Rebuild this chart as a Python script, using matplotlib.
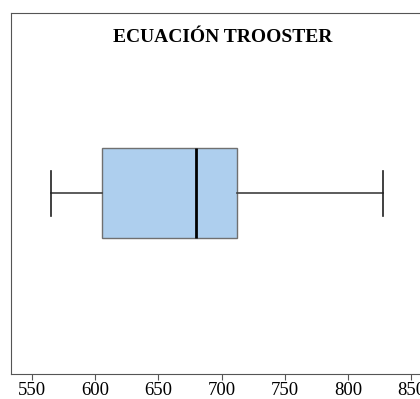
import matplotlib.pyplot as plt

# Box plot summary
title = 'ECUACIÓN TROOSTER'
whisker_low = 565
q1 = 605
median = 680
q3 = 712
whisker_high = 828
xticks = [550, 600, 650, 700, 750, 800, 850]

plt.rcParams['font.family'] = ['Liberation Serif', 'DejaVu Serif']

fig = plt.figure(figsize=(4.2, 3.99), dpi=100)
ax = fig.add_axes([11 / 420, 1 - 373.7 / 399, 1.0, (373.7 - 12.5) / 399])

stats = [{'whislo': whisker_low, 'q1': q1, 'med': median, 'q3': q3,
          'whishi': whisker_high, 'fliers': []}]
ax.bxp(stats, positions=[0], widths=0.5, capwidths=0.25, vert=False,
       patch_artist=True, showfliers=False,
       boxprops=dict(facecolor='#aecfee', edgecolor='#707070', linewidth=1),
       medianprops=dict(color='black', linewidth=2),
       whiskerprops=dict(color='#404040', linewidth=1.2),
       capprops=dict(color='#202020', linewidth=1.2))

ax.set_xlim(533.4, 533.4 + 420 / 1.264)
ax.set_ylim(-1, 1)
ax.set_xticks(xticks)
ax.set_yticks([])
ax.tick_params(axis='x', labelsize=13.5, length=4.5, pad=1.5, color='#555555')
for s in ['left', 'bottom', 'top']:
    ax.spines[s].set_color('#555555')
ax.spines['right'].set_visible(False)
ax.text(0.505, 0.93, title, transform=ax.transAxes, ha='center', va='center',
        fontsize=14, fontweight='bold')

fig.savefig('out.png', dpi=100)
